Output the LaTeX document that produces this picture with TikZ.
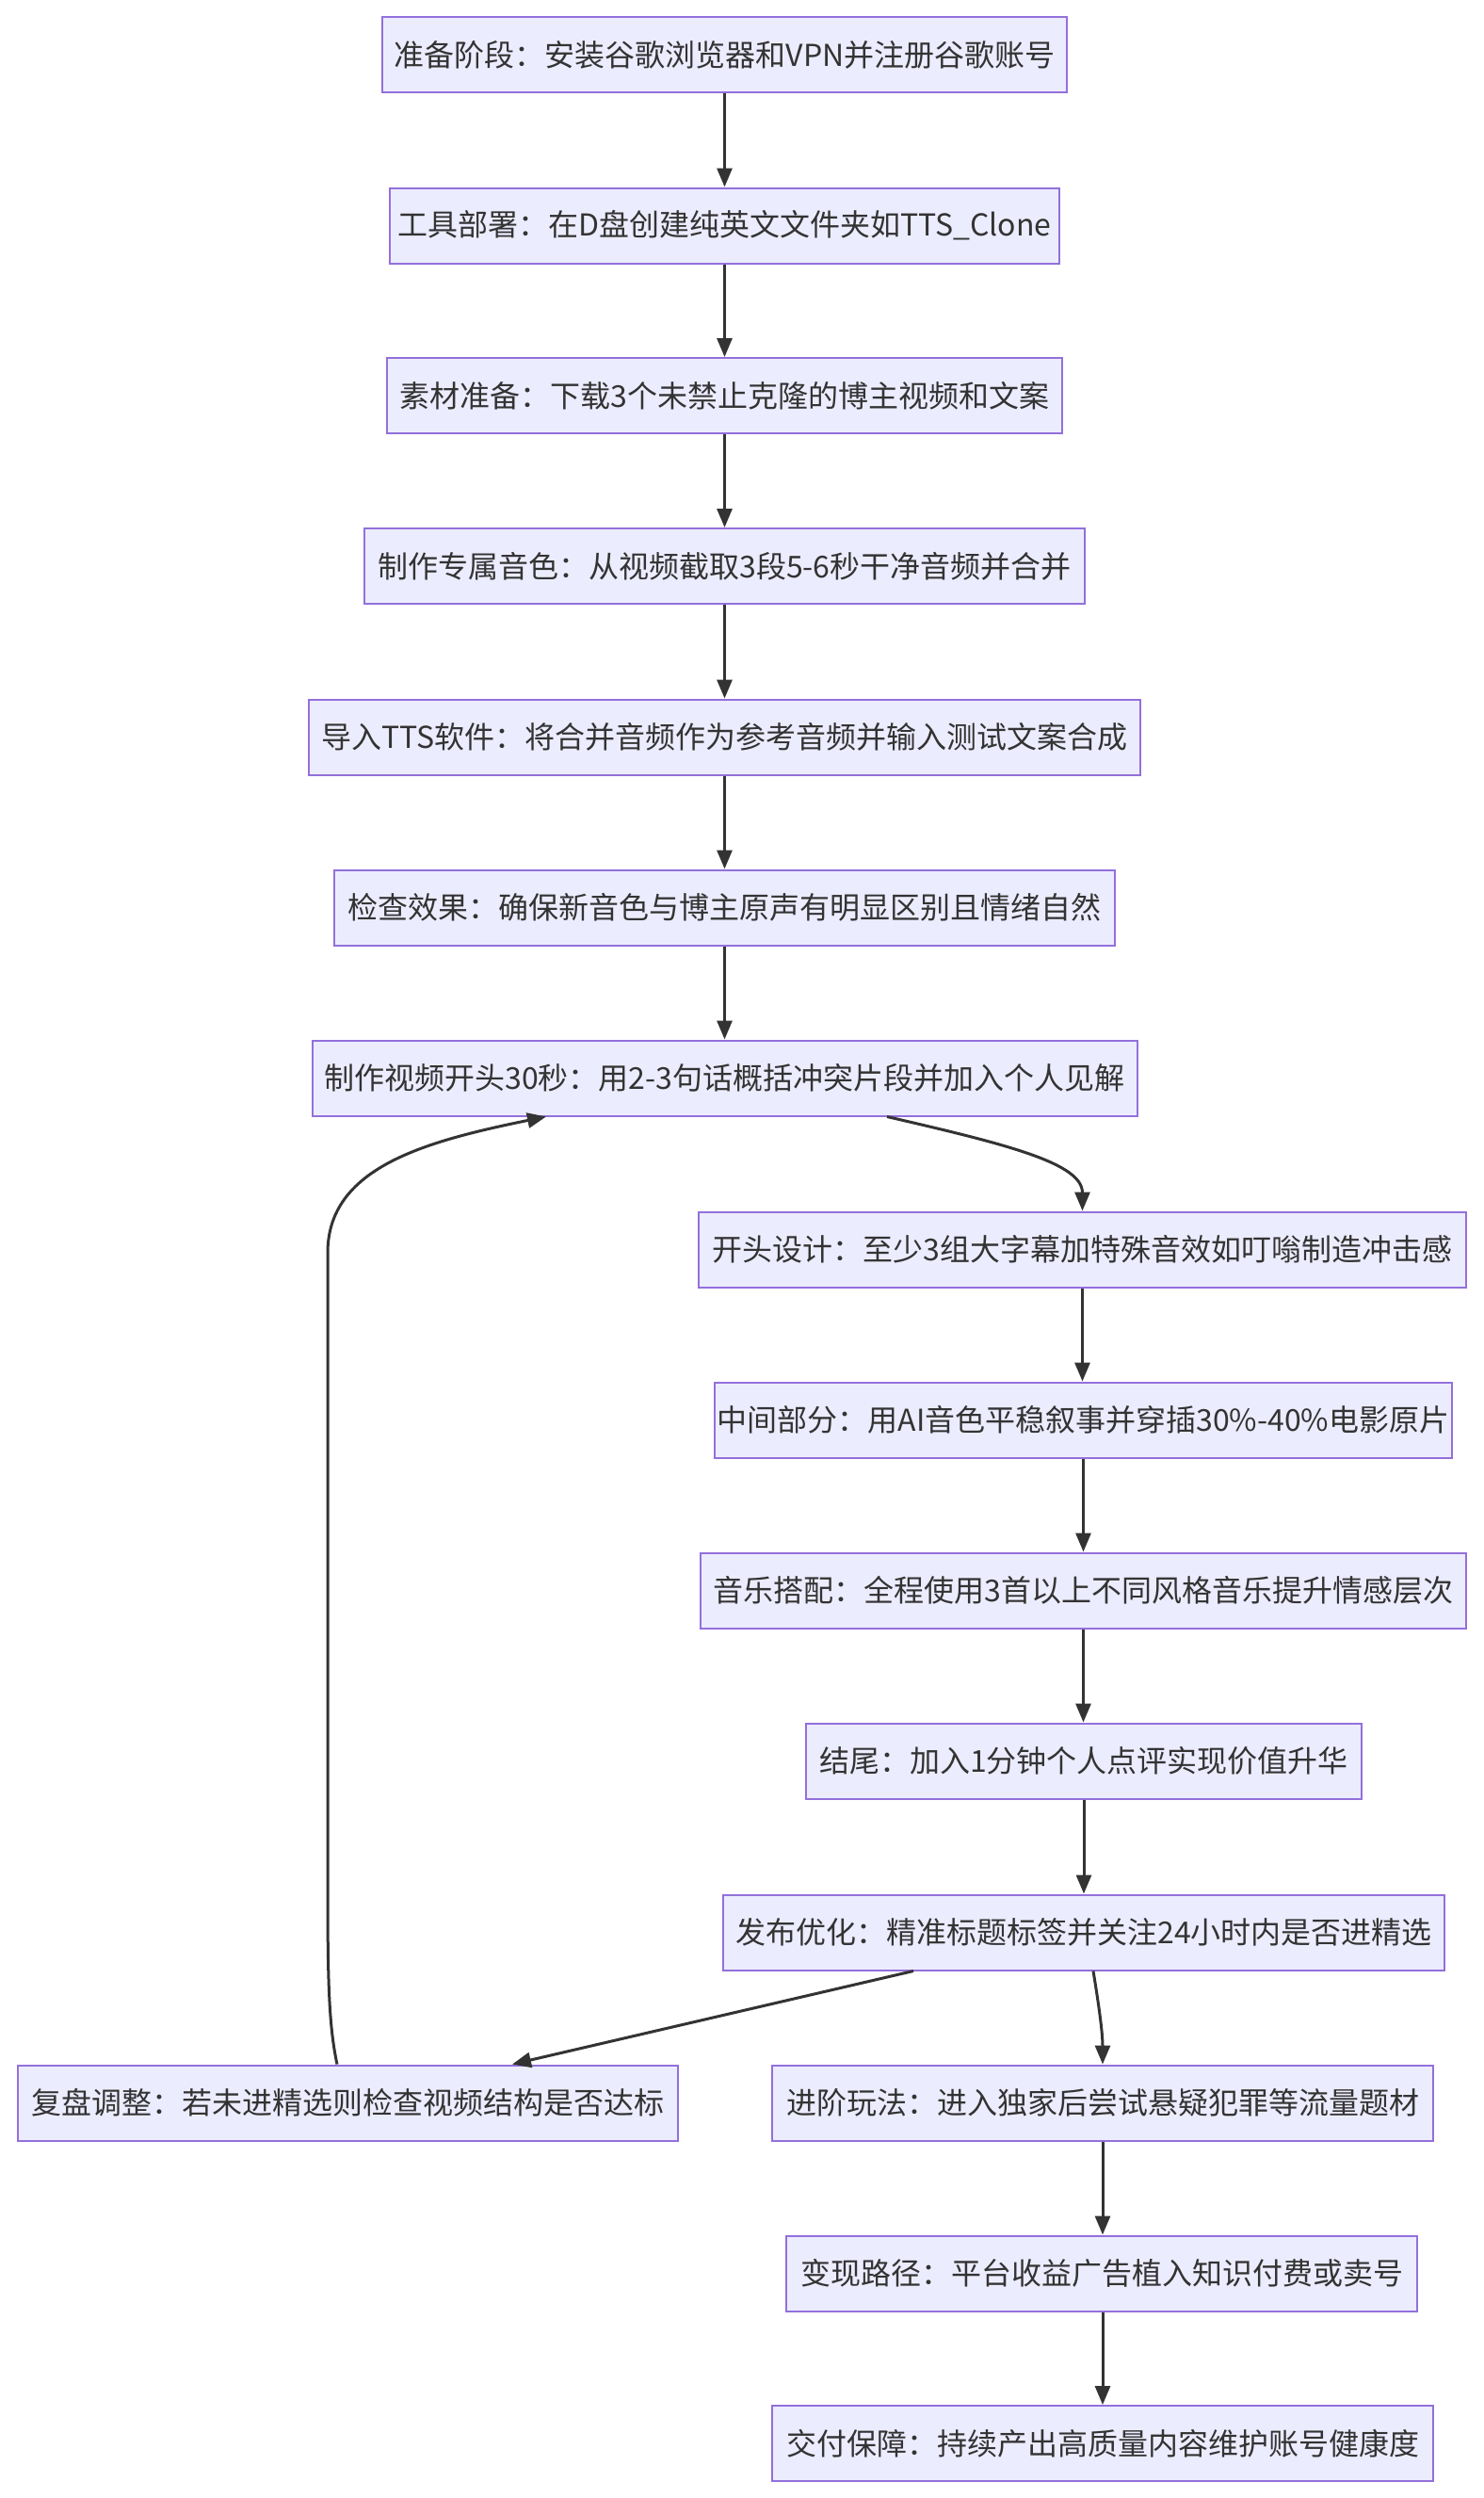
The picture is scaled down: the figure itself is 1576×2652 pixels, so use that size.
\documentclass[tikz,border=0pt]{standalone}
\usepackage{fontspec}
\setmainfont{Noto Sans CJK SC}
\usetikzlibrary{arrows.meta}
\definecolor{boxfill}{HTML}{ECECFF}
\definecolor{boxline}{HTML}{9370DB}
\definecolor{edge}{HTML}{333333}
\tikzset{
  box/.style={draw=boxline, fill=boxfill, line width=2pt, minimum height=80pt,
    inner xsep=0pt, inner ysep=0pt, text=edge,
    font=\fontsize{32}{38}\selectfont, anchor=center},
  conn/.style={draw=edge, line width=3pt, -{Triangle[length=20pt,width=16pt]}}
}
\begin{document}
\begin{tikzpicture}[x=1pt,y=-1pt]
\useasboundingbox (0,0) rectangle (1576,2652);
\node[box, minimum width=727pt] (n1) at (769.5,58.5) {准备阶段：安装谷歌浏览器和VPN并注册谷歌账号};
\node[box, minimum width=711pt] (n2) at (769.5,239.5) {工具部署：在D盘创建纯英文文件夹如TTS\_Clone};
\node[box, minimum width=717pt] (n3) at (769.5,420) {素材准备：下载3个未禁止克隆的博主视频和文案};
\node[box, minimum width=765pt] (n4) at (769.5,601) {制作专属音色：从视频截取3段5-6秒干净音频并合并};
\node[box, minimum width=883pt] (n5) at (769.5,782.5) {导入TTS软件：将合并音频作为参考音频并输入测试文案合成};
\node[box, minimum width=829pt] (n6) at (769.5,963.5) {检查效果：确保新音色与博主原声有明显区别且情绪自然};
\node[box, minimum width=876pt] (n7) at (769.5,1144.5) {制作视频开头30秒：用2-3句话概括冲突片段并加入个人见解};
\node[box, minimum width=815pt] (n8) at (1149.5,1326.5) {开头设计：至少3组大字幕加特殊音效如叮嗡制造冲击感};
\node[box, minimum width=783pt] (n9) at (1150.5,1507.5) {中间部分：用AI音色平稳叙事并穿插30\%-40\%电影原片};
\node[box, minimum width=813pt] (n10) at (1150.5,1688.5) {音乐搭配：全程使用3首以上不同风格音乐提升情感层次};
\node[box, minimum width=590pt] (n11) at (1151,1869.5) {结尾：加入1分钟个人点评实现价值升华};
\node[box, minimum width=766pt] (n12) at (1151,2051.5) {发布优化：精准标题标签并关注24小时内是否进精选};
\node[box, minimum width=701pt] (n13) at (369.5,2232.5) {复盘调整：若未进精选则检查视频结构是否达标};
\node[box, minimum width=702pt] (n14) at (1171,2232.5) {进阶玩法：进入独家后尝试悬疑犯罪等流量题材};
\node[box, minimum width=670pt] (n15) at (1170,2413.5) {变现路径：平台收益广告植入知识付费或卖号};
\node[box, minimum width=702pt] (n16) at (1171,2594) {交付保障：持续产出高质量内容维护账号健康度};

\draw[conn] (n1.south) -- (n2.north);
\draw[conn] (n2.south) -- (n3.north);
\draw[conn] (n3.south) -- (n4.north);
\draw[conn] (n4.south) -- (n5.north);
\draw[conn] (n5.south) -- (n6.north);
\draw[conn] (n6.south) -- (n7.north);
\draw[conn] (n7.south -| 942,0) .. controls (1070,1215) and (1149.5,1235) .. (n8.north);
\draw[conn] (n8.south) -- (n9.north -| n8.south);
\draw[conn] (n9.south) -- (n10.north);
\draw[conn] (n10.south) -- (n11.north -| n10.south);
\draw[conn] (n11.south) -- (n12.north);
\draw[conn] (n12.south -| 970,0) -- (n13.north -| 544,0);
\draw[conn] (n12.south -| 1161,0) .. controls (1168,2135) and (1171,2160) .. (n14.north);
\draw[conn] (n14.south) -- (n15.north -| n14.south);
\draw[conn] (n15.south -| n14.south) -- (n16.north);
\draw[conn] (n13.north -| 358,0) .. controls (349,2150) and (348,2100) .. (348,2000)
  -- (348,1330) .. controls (348,1240) and (450,1212) .. (n7.south -| 580,0);
\end{tikzpicture}
\end{document}
